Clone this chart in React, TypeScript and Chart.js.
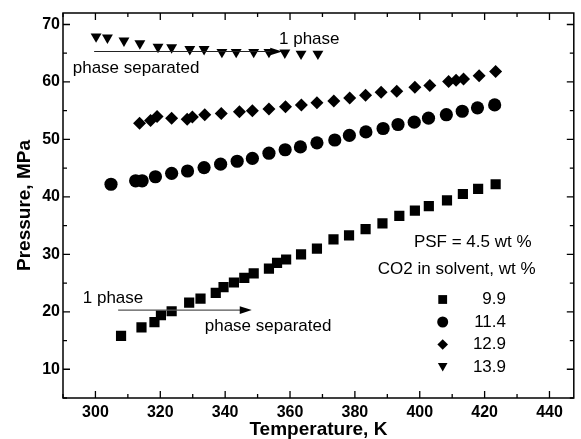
import React, { useEffect, useRef } from "react";
import { Chart, registerables } from "chart.js";

Chart.register(...registerables);

// ---- axis ticks ----
const xTickValues = [300, 320, 340, 360, 380, 400, 420, 440];
const xMinorTickValues = [290, 310, 330, 350, 370, 390, 410, 430];
const yTickValues = [10, 20, 30, 40, 50, 60, 70];
const yMinorTickValues = [5, 15, 25, 35, 45, 55, 65];

// ---- series: CO2 in solvent 9.9 wt % (squares) ----
const temp99 = [307.9, 314.2, 318.2, 320.2, 323.5, 328.9, 332.4, 337.1, 339.5, 342.7, 345.9, 348.8, 353.5, 356.0, 358.8, 363.4, 368.3, 373.4, 378.2, 383.3, 388.5, 393.7, 398.5, 402.8, 408.4, 413.3, 418.0, 423.4];
const pres99 = [15.8, 17.3, 18.2, 19.4, 20.1, 21.6, 22.3, 23.3, 24.3, 25.1, 25.9, 26.7, 27.5, 28.5, 29.1, 30.0, 31.0, 32.6, 33.3, 34.4, 35.4, 36.7, 37.6, 38.4, 39.4, 40.5, 41.4, 42.2];

// ---- series: 11.4 wt % (circles) ----
const temp114 = [304.8, 312.4, 314.4, 318.5, 323.5, 328.4, 333.5, 338.6, 343.7, 348.4, 353.5, 358.5, 363.2, 368.3, 373.8, 378.3, 383.4, 388.7, 393.3, 398.3, 402.7, 408.2, 413.1, 417.8, 423.1];
const pres114 = [42.2, 42.8, 42.8, 43.5, 44.1, 44.5, 45.1, 45.7, 46.2, 46.7, 47.6, 48.2, 48.7, 49.4, 49.9, 50.7, 51.3, 51.9, 52.6, 53.0, 53.7, 54.3, 54.9, 55.5, 56.0];

// ---- series: 12.9 wt % (diamonds) ----
const temp129 = [313.6, 317.0, 319.0, 323.5, 328.3, 329.9, 333.7, 338.8, 344.4, 348.4, 353.5, 358.6, 363.5, 368.3, 373.5, 378.4, 383.3, 388.1, 392.9, 398.5, 403.1, 408.9, 411.2, 413.5, 418.3, 423.4];
const pres129 = [52.8, 53.3, 54.0, 53.7, 53.5, 53.9, 54.3, 54.5, 54.8, 55.0, 55.3, 55.7, 56.0, 56.4, 56.7, 57.2, 57.7, 58.2, 58.4, 59.1, 59.4, 60.1, 60.3, 60.5, 61.1, 61.8];

// ---- series: 13.9 wt % (triangles) ----
const temp139 = [300.2, 303.7, 308.8, 313.7, 319.3, 323.5, 329.1, 333.5, 339.0, 343.4, 348.8, 353.5, 358.4, 363.4, 368.6];
const pres139 = [67.9, 67.7, 67.2, 66.7, 66.1, 66.0, 65.7, 65.7, 65.2, 65.2, 65.2, 65.2, 65.1, 64.9, 64.9];

// ---- legend ----
const legendTitle = ["PSF = 4.5 wt %", "CO2 in solvent, wt %"];
const legendLabels = ["9.9", "11.4", "12.9", "13.9"];

// ---- annotations (arrows: [T start, T end, P]) ----
const upperArrow = [299.6, 357.6, 65.3];
const lowerArrow = [307.0, 348.2, 20.3];
const annotationTexts = ["1 phase", "phase separated", "1 phase", "phase separated"];
const annotationT = [356.6, 293.0, 296.1, 333.7];
const annotationP = [67.4, 62.4, 22.4, 17.4];

const FONT = "Arial, 'Liberation Sans', sans-serif";

function symbolPath(ctx: CanvasRenderingContext2D, style: string, x: number, y: number, s: number) {
  ctx.beginPath();
  if (style === "rect") {
    ctx.rect(x - s, y - s, 2 * s, 2 * s);
  } else if (style === "circle") {
    ctx.arc(x, y, s, 0, Math.PI * 2);
  } else if (style === "rectRot") {
    ctx.moveTo(x, y - s);
    ctx.lineTo(x + s, y);
    ctx.lineTo(x, y + s);
    ctx.lineTo(x - s, y);
    ctx.closePath();
  } else {
    ctx.moveTo(x - s, y - s * 0.85);
    ctx.lineTo(x + s, y - s * 0.85);
    ctx.lineTo(x, y + s * 0.95);
    ctx.closePath();
  }
  ctx.fill();
}

const decorPlugin = {
  id: "decor",
  afterDraw(chart: any) {
    const ctx: CanvasRenderingContext2D = chart.ctx;
    const { left, right, top, bottom } = chart.chartArea;
    const xs = chart.scales.x;
    const ys = chart.scales.y;
    ctx.save();
    // frame
    ctx.strokeStyle = "#000";
    ctx.lineWidth = 1.5;
    ctx.strokeRect(left, top, right - left, bottom - top);
    // ticks (inward on all sides)
    ctx.lineWidth = 1.3;
    ctx.beginPath();
    const xt = (vals: number[], len: number) => {
      vals.forEach((v) => {
        const px = xs.getPixelForValue(v);
        if (px < left || px > right) return;
        ctx.moveTo(px, bottom);
        ctx.lineTo(px, bottom - len);
        ctx.moveTo(px, top);
        ctx.lineTo(px, top + len);
      });
    };
    const yt = (vals: number[], len: number) => {
      vals.forEach((v) => {
        const py = ys.getPixelForValue(v);
        if (py < top || py > bottom) return;
        ctx.moveTo(left, py);
        ctx.lineTo(left + len, py);
        ctx.moveTo(right, py);
        ctx.lineTo(right - len, py);
      });
    };
    xt(xTickValues, 7);
    xt(xMinorTickValues, 4);
    yt(yTickValues, 7);
    yt(yMinorTickValues, 4);
    ctx.stroke();

    // arrows
    const drawArrow = (a: number[], color: string) => {
      const x1 = xs.getPixelForValue(a[0]);
      const x2 = xs.getPixelForValue(a[1]);
      const y = ys.getPixelForValue(a[2]);
      ctx.strokeStyle = color;
      ctx.fillStyle = "#000";
      ctx.lineWidth = 1.2;
      ctx.beginPath();
      ctx.moveTo(x1, y);
      ctx.lineTo(x2 - 10, y);
      ctx.stroke();
      ctx.beginPath();
      ctx.moveTo(x2, y);
      ctx.lineTo(x2 - 12, y - 3.8);
      ctx.lineTo(x2 - 12, y + 3.8);
      ctx.closePath();
      ctx.fill();
    };
    drawArrow(upperArrow, "#222");
    drawArrow(lowerArrow, "#555");

    // annotation texts
    ctx.fillStyle = "#000";
    ctx.font = `17px ${FONT}`;
    ctx.textAlign = "left";
    ctx.textBaseline = "middle";
    annotationTexts.forEach((t, i) => {
      ctx.fillText(t, xs.getPixelForValue(annotationT[i]), ys.getPixelForValue(annotationP[i]));
    });

    // legend
    ctx.textAlign = "center";
    ctx.fillText(legendTitle[0], 472.7, 242.7);
    ctx.fillText(legendTitle[1], 456.7, 269.3);
    const styles = ["rect", "circle", "rectRot", "triangle"];
    const sizes = [4.4, 5.5, 5.3, 4.8];
    const rowY = [299.5, 322, 344.5, 367];
    ctx.textAlign = "right";
    legendLabels.forEach((lab, i) => {
      symbolPath(ctx, styles[i], 442.7, rowY[i], sizes[i]);
      ctx.fillText(lab, 506, rowY[i]);
    });
    ctx.restore();
  },
};

export default function App() {
  const ref = useRef<HTMLCanvasElement | null>(null);
  useEffect(() => {
    document.body.style.margin = "0";
    const canvas = ref.current!;
    const mk = (t: number[], p: number[]) => t.map((v, i) => ({ x: v, y: p[i] }));
    const common = {
      showLine: false,
      backgroundColor: "#000",
      borderColor: "#000",
      borderWidth: 0,
      pointBorderWidth: 0,
      pointHoverRadius: 0,
    };
    const chart = new Chart(canvas, {
      type: "scatter",
      data: {
        datasets: [
          { ...common, label: legendLabels[0], data: mk(temp99, pres99), pointStyle: "rect", pointRadius: 7.2 },
          { ...common, label: legendLabels[1], data: mk(temp114, pres114), pointStyle: "circle", pointRadius: 6.6 },
          { ...common, label: legendLabels[2], data: mk(temp129, pres129), pointStyle: "rectRot", pointRadius: 6.5 },
          { ...common, label: legendLabels[3], data: mk(temp139, pres139), pointStyle: "triangle", pointRadius: 6.3, rotation: 180 } as any,
        ],
      },
      options: {
        responsive: false,
        animation: false,
        devicePixelRatio: 1,
        layout: { padding: { top: 13, right: 1, left: 0, bottom: 0 } },
        plugins: { legend: { display: false }, tooltip: { enabled: false } },
        scales: {
          x: {
            type: "linear",
            min: 290,
            max: 447.5,
            grid: { display: false, drawTicks: false },
            border: { display: false },
            afterBuildTicks: (s: any) => {
              s.ticks = xTickValues.map((v) => ({ value: v }));
            },
            afterFit: (s: any) => {
              s.height = 41;
            },
            ticks: {
              color: "#000",
              padding: 5,
              maxRotation: 0,
              font: { family: FONT, size: 16, weight: "bold" },
              callback: (v: any) => String(v),
            },
            title: {
              display: true,
              text: "Temperature, K",
              color: "#000",
              font: { family: FONT, size: 19, weight: "bold", lineHeight: 1 },
              padding: { top: 0, bottom: 0 },
            },
          },
          y: {
            type: "linear",
            min: 5,
            max: 72,
            grid: { display: false, drawTicks: false },
            border: { display: false },
            afterBuildTicks: (s: any) => {
              s.ticks = yTickValues.map((v) => ({ value: v }));
            },
            afterFit: (s: any) => {
              s.width = 63;
            },
            ticks: {
              color: "#000",
              padding: 3,
              font: { family: FONT, size: 16, weight: "bold" },
              callback: (v: any) => String(v),
            },
            title: {
              display: true,
              text: "Pressure, MPa",
              color: "#000",
              font: { family: FONT, size: 19, weight: "bold", lineHeight: 1 },
              padding: { top: 15, bottom: 0 },
            },
          },
        },
      },
      plugins: [decorPlugin],
    } as any);
    return () => chart.destroy();
  }, []);
  return (
    <div style={{ width: 581, height: 439 }}>
      <canvas ref={ref} width={581} height={439} style={{ display: "block" }} />
    </div>
  );
}
